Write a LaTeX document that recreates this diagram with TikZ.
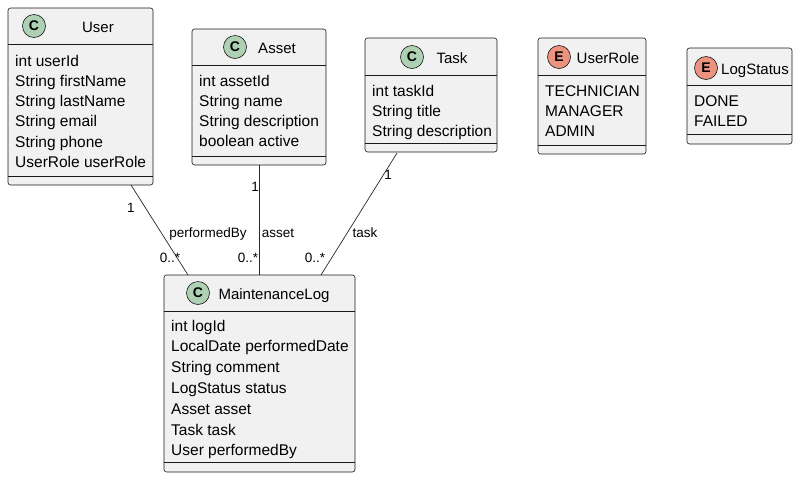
\documentclass[tikz,border=0pt]{standalone}
\usepackage{fontspec}
\setmainfont{Liberation Sans}
\begin{document}
\begin{tikzpicture}[x=1pt,y=-1pt,
  box/.style={draw=black!90,fill=boxfill,line width=0.6pt,rounded corners=2.5pt},
  sep/.style={draw=black!90,line width=0.5pt},
  txt/.style={anchor=base west,inner sep=0pt,font=\fontsize{15.5}{15}\selectfont},
  ttl/.style={anchor=base,inner sep=0pt,font=\fontsize{15}{15}\selectfont},
  ic/.style={circle,draw=black!90,line width=0.6pt,minimum size=23pt,inner sep=0pt,font=\fontsize{14}{14}\bfseries\selectfont},
  lab/.style={inner sep=0pt,anchor=base,font=\fontsize{13.5}{13}\selectfont},
  conn/.style={draw=black!85,line width=0.7pt}]
\definecolor{boxfill}{HTML}{F1F1F1}
\definecolor{cgreen}{HTML}{ADD1B2}
\definecolor{ered}{HTML}{EB937F}
\useasboundingbox (0,0) rectangle (800,480);

% User
\draw[box] (8,8) rectangle (153,185);
\draw[sep] (8,44) -- (153,44); \draw[sep] (8,176) -- (153,176);
\node[ic,fill=cgreen] (uc) at (34,26) {C};
\node[ttl] (ut) at (98,32) {User};
\foreach \t [count=\i from 0] in {int userId,String firstName,String lastName,String email,String phone,UserRole userRole}
  \node[txt] at (15,66+20.3*\i) {\t};

% Asset
\draw[box] (192,29) rectangle (326,165);
\draw[sep] (192,65) -- (326,65); \draw[sep] (192,156) -- (326,156);
\node[ic,fill=cgreen] (ac) at (235,47) {C};
\node[ttl] (at) at (277,53) {Asset};
\foreach \t [count=\i from 0] in {int assetId,String name,String description,boolean active}
  \node[txt] at (199,86+20.3*\i) {\t};

% Task
\draw[box] (365,38) rectangle (497,152);
\draw[sep] (365,75) -- (497,75); \draw[sep] (365,143) -- (497,143);
\node[ic,fill=cgreen] (tc) at (412,57) {C};
\node[ttl] (tt) at (452,63) {Task};
\foreach \t [count=\i from 0] in {int taskId,String title,String description}
  \node[txt] at (372,96+20.3*\i) {\t};

% UserRole
\draw[box] (538,38) rectangle (646,154);
\draw[sep] (538,75) -- (646,75); \draw[sep] (538,145) -- (646,145);
\node[ic,fill=ered] (rc) at (559,57) {E};
\node[ttl] (rt) at (608,63) {UserRole};
\foreach \t [count=\i from 0] in {TECHNICIAN,MANAGER,ADMIN}
  \node[txt] at (545,96+20.3*\i) {\t};

% LogStatus
\draw[box] (687,48) rectangle (792,144);
\draw[sep] (687,85) -- (792,85); \draw[sep] (687,134) -- (792,134);
\node[ic,fill=ered] (lc) at (706,68) {E};
\node[ttl] (lt) at (755,74) {LogStatus};
\foreach \t [count=\i from 0] in {DONE,FAILED}
  \node[txt] at (694,106+20.3*\i) {\t};

% MaintenanceLog
\draw[box] (164,275) rectangle (355,472);
\draw[sep] (164,311) -- (355,311); \draw[sep] (164,462) -- (355,462);
\node[ic,fill=cgreen] (mc) at (198,293) {C};
\node[ttl] (mt) at (274,299) {MaintenanceLog};
\foreach \t [count=\i from 0] in {int logId,LocalDate performedDate,String comment,LogStatus status,Asset asset,Task task,User performedBy}
  \node[txt] at (171,331+20.8*\i) {\t};

% connectors
\coordinate (uB) at (131,185); \coordinate (mU) at (188,275);
\coordinate (aB) at (259,165); \coordinate (mA) at (259,275);
\coordinate (tB) at (397,153); \coordinate (mT) at (321,275);
\draw[conn] (uB) -- (mU);
\draw[conn] (aB) -- (mA);
\draw[conn] (tB) -- (mT);

\node[lab] at (131,212) {1};
\node[lab] at (208,237) {performedBy};
\node[lab] at (170,262) {0..*};
\node[lab] at (255,191) {1};
\node[lab] at (278,237) {asset};
\node[lab] at (248,262) {0..*};
\node[lab] at (388,179) {1};
\node[lab] at (365,237) {task};
\node[lab] at (315,262) {0..*};
\end{tikzpicture}
\end{document}
